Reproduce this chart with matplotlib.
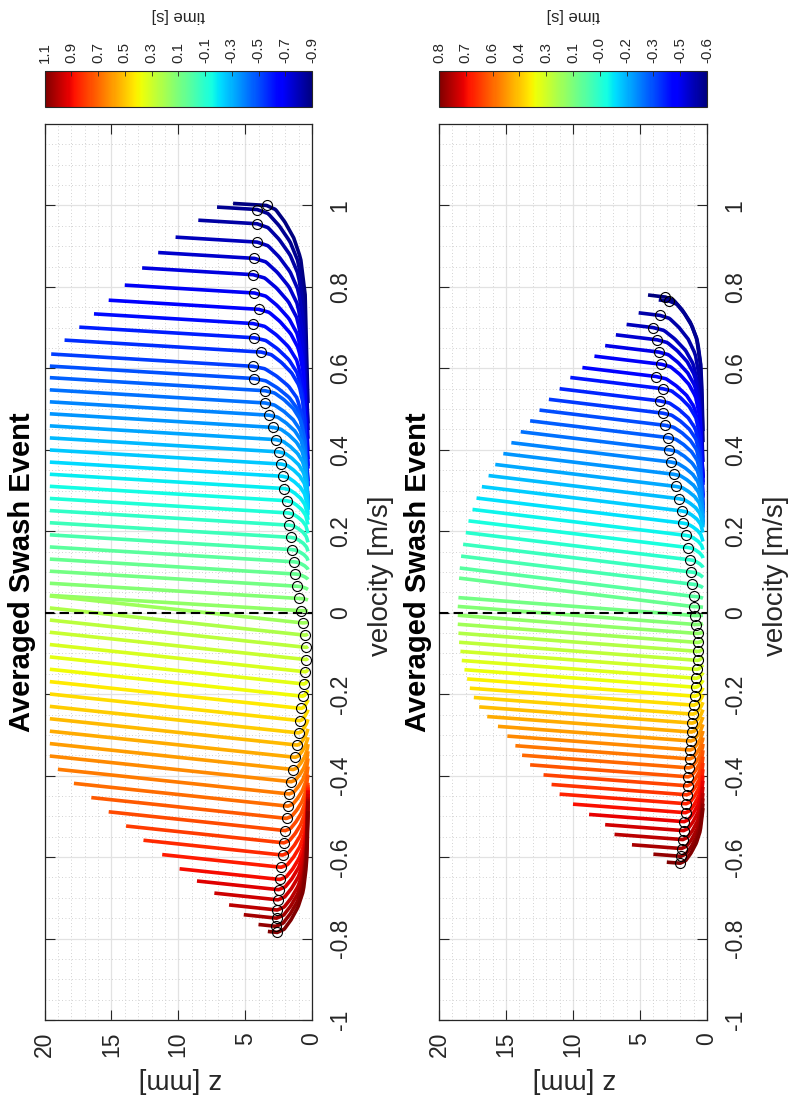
import numpy as np
import matplotlib
matplotlib.use("Agg")
import matplotlib.pyplot as plt
from matplotlib.colors import Normalize
from matplotlib.cm import ScalarMappable
from matplotlib.ticker import FixedLocator, MultipleLocator

plt.rcParams['font.family'] = ['Liberation Sans', 'DejaVu Sans']

# ---------------- data ----------------
# velocity ticks / depth ticks
vel_ticks = [-1, -0.8, -0.6, -0.4, -0.2, 0, 0.2, 0.4, 0.6, 0.8, 1]
vel_labels = ['-1', '-0.8', '-0.6', '-0.4', '-0.2', '0', '0.2', '0.4', '0.6', '0.8', '1']
z_ticks = [0, 5, 10, 15, 20]
z_labels = ['0', '5', '10', '15', '20']

# panel 1: knee velocity (m/s), profile top z (mm), knee (circle) z (mm)
u1 = [1.00, 0.99, 0.955, 0.91, 0.87, 0.83, 0.785, 0.745, 0.71, 0.675,
      0.64, 0.605, 0.575, 0.545, 0.515, 0.485, 0.455, 0.425, 0.395, 0.365,
      0.335, 0.305, 0.275, 0.245, 0.215, 0.185, 0.155, 0.125, 0.095, 0.065,
      0.035, 0.005, -0.025, -0.055, -0.085, -0.115, -0.145, -0.175, -0.205, -0.235,
      -0.265, -0.295, -0.325, -0.355, -0.385, -0.415, -0.445, -0.475, -0.505, -0.535,
      -0.565, -0.595, -0.625, -0.655, -0.68, -0.705, -0.73, -0.75, -0.77, -0.785]
h1 = [5.9, 7.1, 8.5, 10.2, 11.5, 12.7, 14.0, 15.2, 16.3, 17.4,
      18.5, 19.5, 19.6, 19.6, 19.6, 19.6, 19.6, 19.6, 19.6, 19.6,
      19.6, 19.6, 19.6, 19.6, 19.6, 19.6, 19.6, 19.6, 19.6, 19.6,
      19.6, 19.6, 19.6, 19.6, 19.6, 19.6, 19.6, 19.6, 19.6, 19.6,
      19.6, 19.6, 19.6, 19.6, 19.6, 19.6, 19.0, 17.8, 16.5, 15.2,
      13.9, 12.6, 11.2, 9.9, 8.6, 7.3, 6.2, 5.1, 4.0, 3.3]
zc1 = [3.4, 4.1, 4.1, 4.1, 4.3, 4.4, 4.3, 4.0, 4.4, 4.3,
       3.8, 4.4, 4.3, 3.5, 3.5, 3.2, 2.9, 2.7, 2.5, 2.3,
       2.2, 2.1, 1.9, 1.8, 1.7, 1.6, 1.5, 1.35, 1.25, 1.1,
       0.95, 0.8, 0.7, 0.55, 0.45, 0.45, 0.5, 0.6, 0.7, 0.8,
       0.9, 1.0, 1.1, 1.25, 1.4, 1.55, 1.7, 1.8, 1.9, 2.0,
       2.1, 2.2, 2.3, 2.4, 2.5, 2.55, 2.6, 2.65, 2.7, 2.6]
slope1 = [0.002, 0.0035]      # outer-layer du/dz (m/s per mm) for uprush / backwash
t1_range = [-0.9, 1.1]
cb1_labels = ['1.1', '0.9', '0.7', '0.5', '0.3', '0.1', '-0.1', '-0.3', '-0.5', '-0.7', '-0.9']

# panel 2
u2 = [0.775, 0.765, 0.73, 0.70, 0.67, 0.64, 0.61, 0.58, 0.55, 0.52,
      0.49, 0.46, 0.43, 0.40, 0.37, 0.34, 0.31, 0.28, 0.25, 0.22,
      0.19, 0.16, 0.13, 0.10, 0.07, 0.04,
      0.015, -0.007, -0.029, -0.051, -0.073, -0.095, -0.117, -0.139, -0.161, -0.183,
      -0.205, -0.227, -0.249, -0.271, -0.293, -0.315, -0.337, -0.359, -0.381, -0.403,
      -0.425, -0.447, -0.469, -0.491, -0.513, -0.535, -0.557, -0.579, -0.598, -0.615]
h2 = [4.4, 3.6, 5.1, 6.0, 6.8, 7.6, 8.4, 9.3, 10.2, 11.0,
      11.8, 12.5, 13.2, 13.9, 14.6, 15.2, 15.8, 16.3, 16.8, 17.2,
      17.5, 17.8, 18.0, 18.2, 18.35, 18.45,
      18.5, 18.55, 18.6, 18.6, 18.6, 18.55, 18.5, 18.4, 18.3, 18.1,
      17.9, 17.7, 17.4, 17.0, 16.4, 15.6, 14.9, 14.3, 13.8, 13.2,
      12.2, 11.6, 11.0, 10.0, 8.8, 7.6, 6.9, 5.6, 4.0, 3.0]
zc2 = [3.1, 2.8, 3.5, 4.0, 3.7, 3.6, 3.4, 3.8, 3.3, 3.5,
       3.3, 3.1, 2.9, 2.8, 2.7, 2.5, 2.3, 2.1, 1.9, 1.8,
       1.6, 1.4, 1.3, 1.2, 1.1, 1.0,
       1.0, 0.9, 0.8, 0.7, 0.7, 0.65, 0.7, 0.75, 0.8, 0.85,
       0.9, 1.0, 1.05, 1.1, 1.15, 1.2, 1.25, 1.3, 1.35, 1.4,
       1.45, 1.5, 1.55, 1.6, 1.7, 1.75, 1.8, 1.9, 1.95, 2.0]
slope2 = [0.004, 0.0025]
t2_range = [-0.61, 0.84]
cb2_labels = ['0.8', '0.7', '0.6', '0.4', '0.3', '0.1', '-0.0', '-0.2', '-0.3', '-0.5', '-0.6']

# normalised near-bed profile shape u/U vs z/z_knee (read from the top profiles)
shape_zeta = [0.0, 0.05, 0.1, 0.15, 0.25, 0.4, 0.6, 0.8, 1.0]
shape_g = [0.3, 0.4, 0.55, 0.78, 0.87, 0.92, 0.96, 0.99, 1.0]
z_bed = 0.3

for a, b, c in [(u1, h1, zc1), (u2, h2, zc2)]:
    if not (len(a) == len(b) == len(c)):
        raise ValueError('length mismatch %d %d %d' % (len(a), len(b), len(c)))

# ---------------- figure ----------------
W, H = 791, 1106
fig = plt.figure(figsize=(W / 100, H / 100), dpi=100)
TXT = '#262626'


def px_rect(x0, y0, x1, y1):
    return [x0 / W, 1 - y1 / H, (x1 - x0) / W, (y1 - y0) / H]


def profile(U, h, zc, s):
    z_in = np.linspace(z_bed, zc, 30)
    z_out = np.linspace(zc, h, 60)[1:]
    u_in = U * np.interp(z_in / zc, shape_zeta, shape_g)
    u_out = U + s * (z_out - zc)
    return np.concatenate([z_in, z_out]), np.concatenate([u_in, u_out])


panels = [
    dict(u=u1, h=h1, zc=zc1, s=slope1, tr=t1_range, cbl=cb1_labels,
         ax=(44.5, 124, 312, 1020), title_x=22.5, vlab_x=381),
    dict(u=u2, h=h2, zc=zc2, s=slope2, tr=t2_range, cbl=cb2_labels,
         ax=(439, 124, 707, 1020), title_x=418, vlab_x=776),
]

cmap = plt.get_cmap('jet')

for P in panels:
    x0, y0, x1, y1 = P['ax']
    ax = fig.add_axes(px_rect(x0, y0, x1, y1))
    n = len(P['u'])
    tmin, tmax = P['tr']
    norm = Normalize(tmin, tmax)
    times = np.linspace(tmin, tmax, n)

    for i in range(n):
        U = P['u'][i]
        s = P['s'][0] if U >= 0 else P['s'][1]
        z, u = profile(U, P['h'][i], P['zc'][i], s)
        ax.plot(z, u, color=cmap(norm(times[i])), lw=2.6, solid_capstyle='butt', zorder=2)

    ax.plot(P['zc'], P['u'], 'o', mfc='none', mec='k', ms=7.2, mew=0.8, zorder=4)
    ax.axhline(0, color='k', lw=1.5, linestyle=(0, (4.5, 2.5)), zorder=3)

    ax.set_xlim(20, 0)
    ax.set_ylim(-1, 1.2)
    ax.xaxis.set_major_locator(FixedLocator(z_ticks))
    ax.set_xticklabels(z_labels)
    ax.yaxis.set_major_locator(FixedLocator(vel_ticks))
    ax.set_yticklabels(vel_labels)
    ax.xaxis.set_minor_locator(MultipleLocator(1))
    ax.yaxis.set_minor_locator(MultipleLocator(0.05))
    ax.tick_params(which='major', direction='in', length=7, width=0.8, color=TXT,
                   top=True, bottom=True, left=True, right=True,
                   labelleft=False, labelright=True, labelbottom=True, labeltop=False,
                   labelsize=16.5, labelcolor=TXT)
    ax.tick_params(axis='y', which='major', pad=12)
    ax.tick_params(axis='x', which='major', pad=8.5)
    ax.tick_params(which='minor', length=0)
    for lab in ax.get_yticklabels():
        lab.set_rotation(90)
        lab.set_va('center')
        lab.set_ha('left')
    for lab in ax.get_xticklabels():
        lab.set_rotation(90)
        lab.set_ha('center')
        lab.set_va('top')
    ax.grid(which='major', color='#e2e2e2', lw=0.9, zorder=0)
    ax.grid(which='minor', color='#c4c4c4', lw=0.6, linestyle=(0, (1, 3)), zorder=0)
    ax.set_axisbelow(True)
    for sp in ax.spines.values():
        sp.set_color(TXT)
        sp.set_linewidth(0.9)

    axw = x1 - x0
    axh = y1 - y0
    ax.text((P['title_x'] - x0) / axw, 0.5, 'Averaged Swash Event', transform=ax.transAxes,
            rotation=90, ha='center', va='center', fontsize=21, fontweight='bold', color='k')
    ax.set_ylabel('velocity [m/s]', fontsize=20, color=TXT, rotation=90, ha='center', va='center')
    ax.yaxis.set_label_coords((P['vlab_x'] - x0) / axw, (y1 - 576) / axh)
    ax.set_xlabel('z [mm]', fontsize=20, color=TXT, rotation=180, ha='center', va='center')
    ax.xaxis.set_label_coords((180 + (x0 - 44.5) - x0) / axw, (y1 - 1080) / axh)

    # colorbar
    cax = fig.add_axes(px_rect(x0, 71, x1, 107))
    cb = fig.colorbar(ScalarMappable(norm=norm, cmap=cmap), cax=cax, orientation='horizontal')
    cax.invert_xaxis()
    cb.set_ticks(list(np.linspace(tmax, tmin, 11)))
    cb.set_ticklabels(P['cbl'])
    cax.xaxis.set_ticks_position('top')
    cax.tick_params(axis='x', which='major', direction='in', length=3.5, width=0.6, color=TXT,
                    top=True, bottom=False, labeltop=True, labelbottom=False,
                    labelsize=10.8, labelcolor=TXT, pad=6)
    cax.minorticks_off()
    for lab in cax.get_xticklabels():
        lab.set_rotation(90)
        lab.set_ha('center')
        lab.set_va('bottom')
    cb.outline.set_linewidth(0.8)
    cb.outline.set_edgecolor(TXT)
    fig.text((x0 + x1) / 2 / W, 1 - 15 / H, 'time [s]', rotation=180, ha='center', va='center',
             fontsize=12, color=TXT)

fig.savefig('out.png', dpi=100)
